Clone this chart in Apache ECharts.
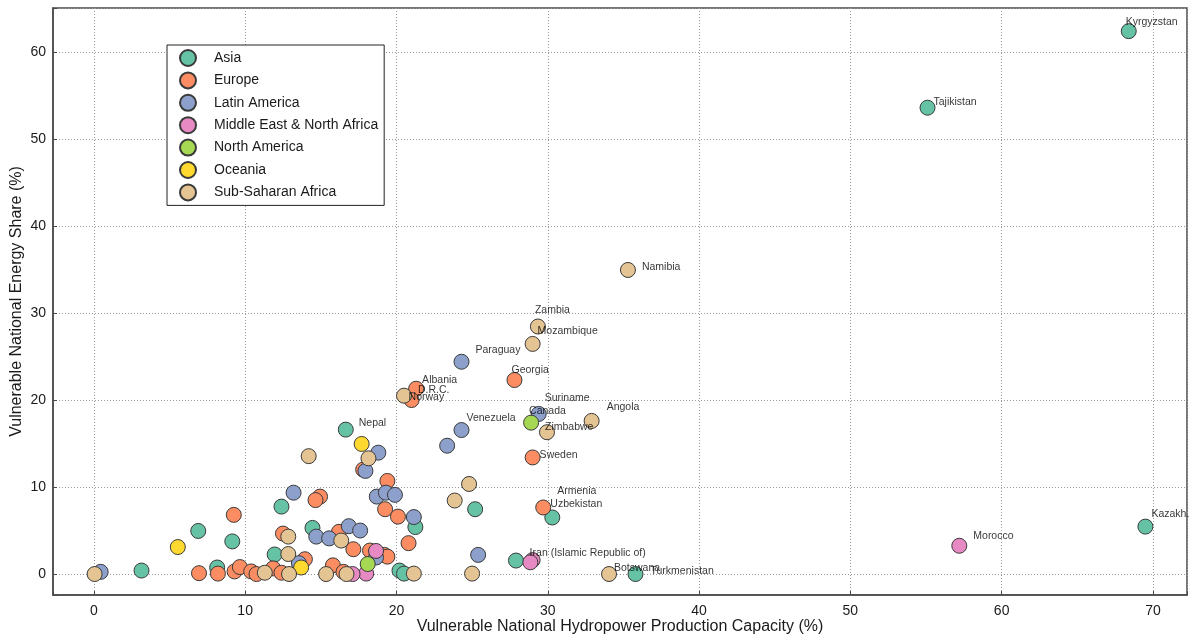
<!DOCTYPE html>
<html>
<head>
<meta charset="utf-8">
<script src="https://cdn.jsdelivr.net/npm/echarts@6/dist/echarts.min.js"></script>
<style>
  html, body { margin: 0; padding: 0; background: #fff; }
  #chart { width: 1189px; height: 637px; }
</style>
</head>
<body>
<div id="chart"></div>
<script>
// Each point: [hydropower capacity %, energy share %, optional country name]
const asia = [
  [68.4, 62.4, 'Kyrgyzstan'], [55.1, 53.6, 'Tajikistan'], [69.5, 5.45, 'Kazakh.'],
  [35.8, 0.0, 'Turkmenistan'], [30.3, 6.5, 'Uzbekistan'], [16.65, 16.6, 'Nepal'],
  [27.9, 1.55], [25.2, 7.45], [21.25, 5.4], [20.2, 0.4], [20.5, 0.05],
  [14.45, 5.3], [12.4, 7.75], [11.95, 2.25], [9.15, 3.75], [6.9, 4.95],
  [8.15, 0.75], [3.15, 0.4]
];
const europe = [
  [27.8, 22.3, 'Georgia'], [21.3, 21.3, 'Albania'], [21.0, 20.0, 'Norway'],
  [29.0, 13.4, 'Sweden'], [29.7, 7.65, 'Armenia'],
  [17.8, 12.0], [19.4, 10.7], [14.95, 8.9], [14.65, 8.5], [19.25, 7.45],
  [20.1, 6.6], [20.8, 3.55], [16.2, 4.85], [17.15, 2.85], [18.25, 2.7],
  [19.2, 2.2], [19.4, 2.0], [15.8, 1.0], [16.5, 0.25], [13.95, 1.7],
  [12.5, 4.65], [9.25, 6.8], [6.95, 0.1], [8.2, 0.05], [9.3, 0.3],
  [9.65, 0.8], [10.4, 0.3], [10.75, 0.0], [11.85, 0.65], [12.4, 0.15]
];
const latinAmerica = [
  [24.3, 24.4, 'Paraguay'], [24.3, 16.55, 'Venezuela'], [29.4, 18.4, 'Suriname'],
  [23.35, 14.75], [18.8, 13.95], [17.95, 11.85], [18.7, 8.9], [19.3, 9.35],
  [19.9, 9.1], [21.15, 6.55], [25.4, 2.2], [13.2, 9.35], [14.7, 4.3],
  [15.55, 4.1], [16.85, 5.5], [17.6, 5.0], [18.65, 1.9], [13.55, 1.25],
  [0.45, 0.25]
];
const middleEast = [
  [57.2, 3.25, 'Morocco'], [29.0, 1.6, 'Iran (Islamic Republic of)'],
  [28.85, 1.35], [18.65, 2.65], [18.0, 0.05], [17.1, 0.0]
];
const northAmerica = [
  [28.9, 17.4, 'Canada'], [18.1, 1.15]
];
const oceania = [
  [17.7, 14.95], [5.55, 3.1], [13.7, 0.75]
];
const subSaharan = [
  [35.3, 34.95, 'Namibia'], [29.35, 28.45, 'Zambia'], [29.0, 26.45, 'Mozambique'],
  [20.5, 20.5, 'D.R.C.'], [32.9, 17.6, 'Angola'], [29.95, 16.3, 'Zimbabwe'],
  [34.05, 0.0, 'Botswana'],
  [24.8, 10.35], [23.85, 8.45], [18.15, 13.3], [14.2, 13.55], [16.35, 3.85],
  [12.85, 4.3], [12.85, 2.3], [11.3, 0.15], [12.9, 0.0], [15.35, 0.0],
  [16.7, 0.0], [21.15, 0.05], [25.0, 0.05], [0.05, 0.0]
];

const regionNames = ['Asia', 'Europe', 'Latin America', 'Middle East & North Africa',
  'North America', 'Oceania', 'Sub-Saharan Africa'];
const regionData = [asia, europe, latinAmerica, middleEast, northAmerica, oceania, subSaharan];
const regionColors = ['#66c2a5', '#fc8d62', '#8da0cb', '#e78ac3', '#a6d854', '#ffd92f', '#e5c494'];

const xTicks = [0, 10, 20, 30, 40, 50, 60, 70];
const yTicks = [0, 10, 20, 30, 40, 50, 60];

// Annotation text placement (pixels from the marker centre to the text's left/middle)
const labelOffsets = {
  'Kyrgyzstan': [-3, -9], 'Tajikistan': [6, -6], 'Namibia': [14, -3],
  'Zambia': [-3, -16], 'Mozambique': [5, -13], 'Paraguay': [14, -12],
  'Georgia': [-3, -10], 'Albania': [6, -9], 'D.R.C.': [14, -6], 'Norway': [-3, -3],
  'Nepal': [13, -7], 'Venezuela': [5, -12], 'Suriname': [6, -16], 'Canada': [-2, -12],
  'Zimbabwe': [-2, -5], 'Angola': [15, -14], 'Sweden': [7, -2], 'Armenia': [14, -16],
  'Uzbekistan': [-2, -13], 'Iran (Islamic Republic of)': [-3, -7], 'Botswana': [5, -6],
  'Turkmenistan': [15, -3], 'Morocco': [14, -10], 'Kazakh.': [6, -13]
};

const FONT = '"Liberation Sans", Arial, Helvetica, sans-serif';
const isTick = (list, v) => list.indexOf(Math.round(v * 1000) / 1000) >= 0;

const series = regionNames.map((name, i) => ({
  name: name,
  type: 'scatter',
  data: regionData[i].map(p => [p[0], p[1]]),
  symbol: 'circle',
  symbolSize: 15,
  z: 2,
  itemStyle: { color: regionColors[i], borderColor: '#3a3a3a', borderWidth: 1, opacity: 1 },
  emphasis: { disabled: true }
}));

// Country annotations drawn above every marker
const labelled = [];
regionData.forEach(arr => arr.forEach(p => { if (p[2]) labelled.push(p); }));
series.push({
  name: 'labels',
  type: 'scatter',
  z: 10,
  symbolSize: 1,
  itemStyle: { color: 'rgba(0,0,0,0)' },
  emphasis: { disabled: true },
  data: labelled.map(p => ({
    value: [p[0], p[1]],
    label: {
      show: true,
      position: 'inside',
      align: 'left',
      verticalAlign: 'middle',
      offset: labelOffsets[p[2]] || [6, -8],
      formatter: p[2],
      color: '#000',
      fontSize: 10.5,
      fontFamily: FONT
    }
  }))
});

const chart = echarts.init(document.getElementById('chart'), null, { renderer: 'canvas' });
chart.setOption({
  animation: false,
  backgroundColor: '#fff',
  grid: {
    left: 53, right: 2, top: 8, bottom: 42,
    containLabel: false,
    outerBoundsMode: 'none',
    show: true, borderColor: '#4a4a4a', borderWidth: 1.5, backgroundColor: '#fff'
  },
  legend: {
    data: regionNames,
    orient: 'vertical',
    left: 167, top: 45,
    backgroundColor: '#fff',
    borderColor: '#222', borderWidth: 1, borderRadius: 0,
    padding: [4, 6, 4, 12],
    itemGap: 4.4,
    itemWidth: 16, itemHeight: 16,
    icon: 'circle',
    selectedMode: false,
    textStyle: { fontSize: 14, fontFamily: FONT, color: '#1a1a1a', padding: [0, 0, 0, 13] }
  },
  xAxis: {
    type: 'value',
    min: -2.7, max: 72.25,
    splitNumber: 8,
    name: 'Vulnerable National Hydropower Production Capacity (%)',
    nameLocation: 'middle',
    nameGap: 24,
    nameMoveOverlap: false,
    nameTextStyle: { fontSize: 16, fontFamily: FONT, color: '#1a1a1a' },
    axisLine: { show: true, onZero: false, lineStyle: { color: '#4a4a4a', width: 1.5 } },
    axisTick: { show: true, inside: true, length: 4, lineStyle: { color: '#4a4a4a' } },
    axisLabel: {
      fontSize: 14, fontFamily: FONT, color: '#1a1a1a', margin: 9,
      formatter: v => (isTick(xTicks, v) ? String(v) : '')
    },
    splitLine: { show: true, lineStyle: { color: '#999', type: [1, 2], width: 1 } }
  },
  yAxis: {
    type: 'value',
    min: -2.41, max: 65.06,
    splitNumber: 7,
    name: 'Vulnerable National Energy Share (%)',
    nameLocation: 'middle',
    nameGap: 28,
    nameMoveOverlap: false,
    nameTextStyle: { fontSize: 16, fontFamily: FONT, color: '#1a1a1a' },
    axisLine: { show: true, onZero: false, lineStyle: { color: '#4a4a4a', width: 1.5 } },
    axisTick: { show: true, inside: true, length: 4, lineStyle: { color: '#4a4a4a' } },
    axisLabel: {
      fontSize: 14, fontFamily: FONT, color: '#1a1a1a', margin: 7,
      formatter: v => (isTick(yTicks, v) ? String(v) : '')
    },
    splitLine: { show: true, lineStyle: { color: '#999', type: [1, 2], width: 1 } }
  },
  series: series
});
</script>
</body>
</html>
